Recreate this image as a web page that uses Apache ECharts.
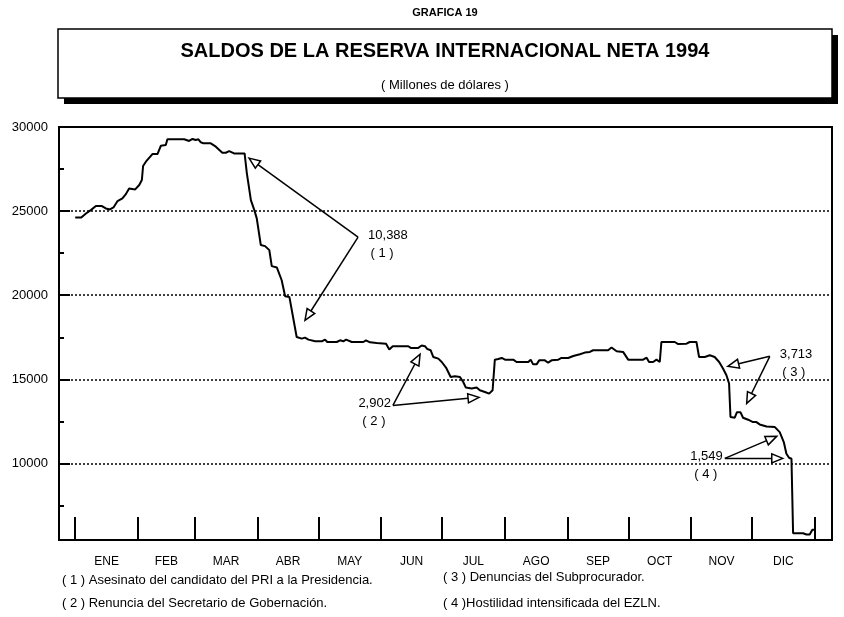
<!DOCTYPE html>
<html>
<head>
<meta charset="utf-8">
<script src="https://cdn.jsdelivr.net/npm/echarts@6/dist/echarts.min.js"></script>
<style>
  html, body { margin: 0; padding: 0; background: #fff; }
  #chart { width: 844px; height: 617px; }
</style>
</head>
<body>
<div id="chart"></div>
<script>
const FONT = "'Liberation Sans', Arial, sans-serif";

// day of year (1994) and net international reserve balance, millions of dollars
const days = [
  0, 3, 5.3, 7.7, 10.2, 13.2, 15.1, 17.1, 18.9, 20.9, 23.3, 25, 26.6, 27.5, 29.6, 31.6, 32.9, 33.5, 35.2, 38.1,
  40.6, 42.3, 44.7, 45.5, 53.8, 54.6, 56.2, 57.9, 59.5, 60.8, 62, 63.3, 66.9, 69.4, 72.6, 74.3, 76, 78.4, 83.6,
  84.7, 86.7, 88.4, 89.6, 91.6, 93.7, 95.8, 97, 99.5, 101.9, 103.6, 105.7, 109.3, 111.8, 113.4, 115.1, 118.4,
  121.7, 123.3, 124.4, 129.1, 130.7, 132.3, 133.7, 136.5, 142.2, 143.5, 145.5, 148.8, 153.4, 155, 156.7, 164.4,
  165.6, 169.3, 171, 172.6, 173.8, 175.4, 176.7, 179.2, 180.9, 183, 185.3, 187.4, 189.9, 191.5, 192.8, 195.7,
  198.1, 199.7, 202.2, 204.3, 206, 207.1, 208.8, 210.5, 212.1, 216.2, 217.8, 223.6, 224.8, 226, 227.7, 229,
  231.8, 233.4, 235.1, 238.4, 240, 243.3, 245.8, 249.1, 251.5, 254, 255.6, 263, 264.7, 267.2, 270.4, 272.9,
  280.3, 282, 283.2, 285.2, 286.9, 288.5, 289.3, 295.9, 297.6, 301.7, 303.3, 306.6, 307.9, 310.7, 313.2, 315.6,
  317.8, 319.7, 321.4, 322.7, 323.4, 325.5, 326.6, 328.3, 329.6, 332.1, 334.5, 336.2, 337.8, 341.2, 345.3,
  347.7, 349.7, 351, 352.3, 353.5, 354.3, 359.2, 360.9, 362.5, 363.8, 365
];
const reserves = [
  24620, 24620, 24860, 25060, 25300, 25300, 25160, 25100, 25220, 25600, 25760, 26010, 26350, 26290, 26290, 26550, 26850, 27680, 27990, 28390,
  28390, 28890, 28930, 29270, 29270, 29170, 29170, 29290, 29230, 29270, 29090, 29030, 29030, 28830, 28470, 28470, 28570, 28430, 28430,
  27260, 25650, 25060, 24570, 22980, 22920, 22680, 21730, 21650, 20890, 19940, 19900, 17520, 17420, 17480, 17360, 17260,
  17260, 17360, 17220, 17220, 17320, 17260, 17360, 17220, 17220, 17320, 17200, 17160, 17120, 16770, 16970, 16970,
  16870, 16870, 17010, 16970, 16800, 16730, 16330, 16230, 16030, 15700, 15140, 15180, 15140, 14840, 14510, 14450,
  14510, 14350, 14250, 14150, 14350, 16170, 16210, 16270, 16170, 16170, 16030, 16030, 16170, 15890, 15890, 16130,
  16130, 15990, 16130, 16170, 16270, 16270, 16390, 16490, 16590, 16630, 16730, 16730, 16890, 16670, 16630, 16170,
  16170, 16290, 16030, 16030, 16170, 16030, 17220, 17220, 17100, 17120, 17220, 17220, 16330, 16330, 16430, 16330,
  16030, 15640, 15240, 14750, 12760, 12720, 13050, 13050, 12720, 12600, 12460, 12460, 12320, 12200, 12160,
  11860, 11270, 10580, 10340, 10280, 5850, 5850, 5780, 5780, 6060, 6060
];

const monthNames = ['ENE', 'FEB', 'MAR', 'ABR', 'MAY', 'JUN', 'JUL', 'AGO', 'SEP', 'OCT', 'NOV', 'DIC'];
const monthStarts = [0, 31, 59, 90, 120, 151, 181, 212, 243, 273, 304, 334, 365];
const monthMids = monthNames.map((_, i) => (monthStarts[i] + monthStarts[i + 1]) / 2);

const yMajorTicks = [10000, 15000, 20000, 25000, 30000];
const yMinorTicks = [7500, 12500, 17500, 22500, 27500];
const gridValues = [10000, 15000, 20000, 25000];

// annotations: amount lost, reference number, arrow origin and targets [day, value]
const notes = [
  { label: '10,388', ref: '( 1 )', side: 'right', from: [139.6, 23450], to: [[85.8, 28150], [113.4, 18510]] },
  { label: '2,902', ref: '( 2 )', side: 'left', from: [156.8, 13450], to: [[170.2, 16490], [199.3, 13930]] },
  { label: '3,713', ref: '( 3 )', side: 'right', from: [342.8, 16370], to: [[322.1, 15775], [331.4, 13570]] },
  { label: '1,549', ref: '( 4 )', side: 'left', from: [320.6, 10300], to: [[346.2, 11610], [349.2, 10300]] },
];

const footnotes = [
  '( 1 ) Asesinato del candidato del PRI a la Presidencia.',
  '( 2 ) Renuncia del Secretario de Gobernación.',
  '( 3 ) Denuncias del Subprocurador.',
  '( 4 )Hostilidad intensificada del EZLN.',
];

const chart = echarts.init(document.getElementById('chart'));

const option = {
  animation: false,
  textStyle: { fontFamily: FONT },
  grid: {
    left: 59, right: 12, top: 127, bottom: 77,
    show: true, borderColor: '#000', borderWidth: 2, backgroundColor: 'transparent',
  },
  xAxis: {
    type: 'value',
    min: -8,
    max: 373.5,
    axisLine: { show: false, onZero: false },
    splitLine: { show: false },
    axisTick: {
      inside: true, length: 23, customValues: monthStarts,
      lineStyle: { color: '#000', width: 2 },
    },
    axisLabel: {
      customValues: monthMids, margin: 16, color: '#000', fontSize: 12, fontFamily: FONT,
      formatter: (v) => monthNames[monthMids.indexOf(v)] || '',
    },
  },
  yAxis: [
    {
      type: 'value',
      min: 5450,
      max: 30000,
      axisLine: { show: false, onZero: false },
      splitLine: { show: false },
      axisTick: {
        inside: true, length: 11, customValues: yMajorTicks,
        lineStyle: { color: '#000', width: 2 },
      },
      axisLabel: {
        customValues: yMajorTicks, margin: 11, color: '#000', fontSize: 13, fontFamily: FONT,
        formatter: (v) => String(v),
      },
    },
    {
      type: 'value',
      position: 'left',
      min: 5450,
      max: 30000,
      axisLine: { show: false, onZero: false },
      splitLine: { show: false },
      axisLabel: { show: false },
      axisTick: {
        inside: true, length: 5, customValues: yMinorTicks,
        lineStyle: { color: '#000', width: 2 },
      },
    },
  ],
  series: [
    {
      type: 'line',
      data: days.map((d, i) => [d, reserves[i]]),
      showSymbol: false,
      lineStyle: { color: '#000', width: 2 },
      silent: true,
      markLine: {
        silent: true,
        symbol: 'none',
        label: { show: false },
        lineStyle: { color: '#000', width: 1.5, type: [2, 2] },
        data: gridValues.map((v) => ({ yAxis: v })),
      },
      z: 3,
    },
  ],
};

chart.setOption(option);

// title box, footnotes and annotation arrows
const graphics = [
  { type: 'text', x: 445, y: 13, style: { text: 'GRAFICA 19', font: 'bold 11px ' + FONT, fill: '#000', align: 'center', verticalAlign: 'middle' } },
  { type: 'rect', shape: { x: 64, y: 35, width: 774, height: 69 }, style: { fill: '#000' } },
  { type: 'rect', shape: { x: 58, y: 29, width: 774, height: 69 }, style: { fill: '#fff', stroke: '#000', lineWidth: 1.5 } },
  { type: 'text', x: 445, y: 51, style: { text: 'SALDOS DE LA RESERVA INTERNACIONAL NETA 1994', font: 'bold 20px ' + FONT, fill: '#000', align: 'center', verticalAlign: 'middle' } },
  { type: 'text', x: 445, y: 85, style: { text: '( Millones de dólares )', font: '13px ' + FONT, fill: '#000', align: 'center', verticalAlign: 'middle' } },
];

const footPos = [[62, 580], [62, 603], [443, 577], [443, 603]];
footnotes.forEach((t, i) => {
  graphics.push({ type: 'text', x: footPos[i][0], y: footPos[i][1], style: { text: t, font: '13px ' + FONT, fill: '#000', align: 'left', verticalAlign: 'middle' } });
});

const toPx = (p) => chart.convertToPixel({ gridIndex: 0 }, p);

notes.forEach((n) => {
  const o = toPx(n.from);
  n.to.forEach((t) => {
    const p = toPx(t);
    const dx = p[0] - o[0], dy = p[1] - o[1];
    const len = Math.sqrt(dx * dx + dy * dy);
    const ux = dx / len, uy = dy / len;
    const L = 11, W = 4.5;
    const bx = p[0] - ux * L, by = p[1] - uy * L;
    graphics.push({ type: 'line', shape: { x1: o[0], y1: o[1], x2: bx, y2: by }, style: { stroke: '#000', lineWidth: 1.5 }, z: 10 });
    graphics.push({
      type: 'polygon',
      shape: { points: [[p[0], p[1]], [bx - uy * W, by + ux * W], [bx + uy * W, by - ux * W]] },
      style: { fill: '#fff', stroke: '#000', lineWidth: 1.5 }, z: 10,
    });
  });
  const right = n.side === 'right';
  graphics.push({
    type: 'text', x: o[0] + (right ? 10 : -2), y: o[1] - 2, z: 10,
    style: { text: n.label, font: '13px ' + FONT, fill: '#000', align: right ? 'left' : 'right', verticalAlign: 'middle' },
  });
  graphics.push({
    type: 'text', x: o[0] + (right ? 24 : -19), y: o[1] + 16, z: 10,
    style: { text: n.ref, font: '13px ' + FONT, fill: '#000', align: 'center', verticalAlign: 'middle' },
  });
});

chart.setOption({ graphic: graphics });
</script>
</body>
</html>
